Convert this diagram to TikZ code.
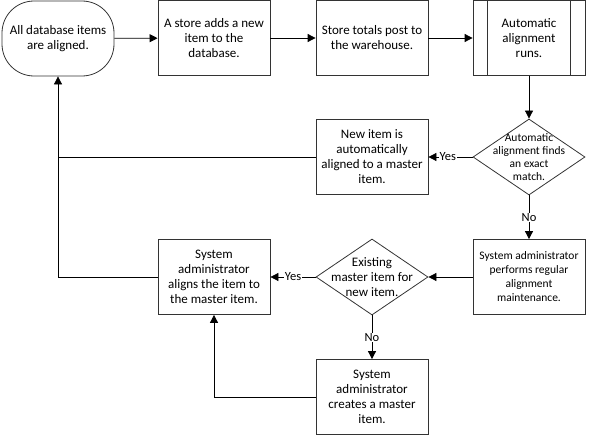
\documentclass[tikz,border=0pt]{standalone}
\usepackage{fontspec}
\setmainfont{Carlito}
\usetikzlibrary{shapes.geometric,arrows.meta}
\begin{document}
\begin{tikzpicture}[x=1pt,y=-1pt,
  box/.style={draw=black!80, line width=0.8pt, minimum width=112pt, minimum height=75pt,
    align=center, inner sep=0pt, font=\fontsize{13}{15}\selectfont},
  smallbox/.style={box, font=\fontsize{11.5}{14}\selectfont},
  term/.style={box, rounded corners=32pt},
  dec/.style={draw=black!80, line width=0.8pt, shape=diamond, minimum width=112pt, minimum height=76pt, inner sep=0pt},
  dectext/.style={align=center, inner sep=0pt, font=\fontsize{11.5}{13}\selectfont},
  arr/.style={-{Triangle[length=8pt,width=8pt]}, line width=0.8pt},
  ln/.style={line width=0.8pt},
  lbl/.style={fill=white, inner sep=0.5pt, font=\fontsize{12.5}{13}\selectfont}]
\useasboundingbox (0,0) rectangle (589,436);
\node[term] (n1) at (58,38.5) {All database items\\ are aligned.};
\node[box] (n2) at (214,38) {A store adds a new\\ item to the\\ database.};
\node[box] (n3) at (372,38) {Store totals post to\\ the warehouse.};
\node[box] (n4) at (529,38) {Automatic\\ alignment\\ runs.};
\draw[draw=black!80, line width=0.8pt] ([xshift=15pt]n4.north west) -- ([xshift=15pt]n4.south west)
  ([xshift=-15pt]n4.north east) -- ([xshift=-15pt]n4.south east);
\node[dec] (d1) at (529,157) {};
\node[dectext] (d1t) at (d1.center) {Automatic\\ alignment finds\\ an exact\\ match.};
\node[box] (n5) at (372,157) {New item is\\ automatically\\ aligned to a master\\ item.};
\node[smallbox] (n6) at (529,277) {System administrator\\ performs regular\\ alignment\\ maintenance.};
\node[dec] (d2) at (372,277) {};
\node[dectext, font=\fontsize{13}{15}\selectfont] (d2t) at (d2.center) {Existing\\ master item for\\ new item.};
\node[box] (n7) at (214,277) {System\\ administrator\\ aligns the item to\\ the master item.};
\node[box] (n8) at (372,397) {System\\ administrator\\ creates a master\\ item.};
\coordinate (c1) at (58,157);
\coordinate (c2) at (58,277);
\coordinate (c3) at (214,397);

\draw[arr] (n1) -- (n2);
\draw[arr] (n2) -- (n3);
\draw[arr] (n3) -- (n4);
\draw[arr] (n4) -- (d1);
\draw[arr] (d1) -- node[lbl, pos=0.56]{Yes} (n5);
\draw[arr] (d1) -- node[lbl, pos=0.5]{No} (n6);
\draw[arr] (n6) -- (d2);
\draw[arr] (d2) -- node[lbl, pos=0.5]{Yes} (n7);
\draw[arr] (d2) -- node[lbl, pos=0.5]{No} (n8);
\draw[arr] (n5) -- (c1) -- (n1);
\draw[ln] (n7) -- (c2) -- (c1);
\draw[arr] (n8) -- (c3) -- (n7);
\end{tikzpicture}
\end{document}
